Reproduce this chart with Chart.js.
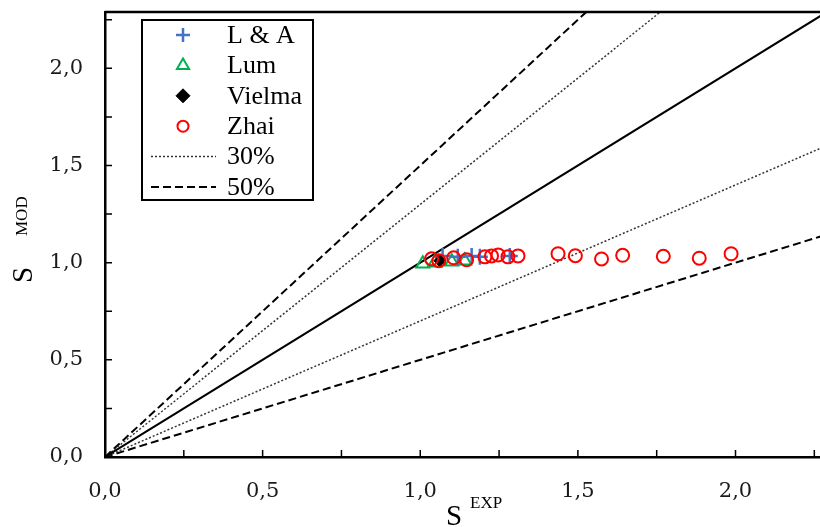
<!DOCTYPE html>
<html>
<head>
<meta charset="utf-8">
<script src="https://cdn.jsdelivr.net/npm/chart.js@4"></script>
<style>
  html, body { margin: 0; padding: 0; background: #fff; }
  #wrap { width: 820px; height: 527px; position: relative; }
</style>
</head>
<body>
<div id="wrap"><canvas id="chart" width="820" height="527"></canvas></div>
<script>
// ---------- Data ----------
const LA_X = [1.071, 1.119, 1.163, 1.189, 1.284];
const LA_Y = [1.035, 1.03, 1.035, 1.03, 1.035];

const LUM_X = [1.008, 1.046, 1.100, 1.141];
const LUM_Y = [0.995, 1.0, 1.005, 1.01];

const VIELMA_X = [1.062];
const VIELMA_Y = [1.01];

const ZHAI_X = [1.036, 1.059, 1.106, 1.147, 1.205, 1.226, 1.247, 1.278, 1.31, 1.437, 1.492, 1.575, 1.642, 1.771, 1.885, 1.986];
const ZHAI_Y = [1.02, 1.01, 1.025, 1.015, 1.03, 1.035, 1.04, 1.03, 1.035, 1.046, 1.036, 1.019, 1.038, 1.033, 1.023, 1.046];

// reference lines y = k * x
const REF_SLOPES = [1.0, 1.3, 0.7, 1.5, 0.5];
const REF_STYLE = ['solid', 'dotted', 'dotted', 'dashed', 'dashed'];

const X_TICKS = [0, 0.25, 0.5, 0.75, 1.0, 1.25, 1.5, 1.75, 2.0, 2.25];
const Y_TICKS = [0, 0.25, 0.5, 0.75, 1.0, 1.25, 1.5, 1.75, 2.0, 2.25];
const X_MAX = 2.268;
const Y_MAX = 2.29;

const LEGEND_LABELS = ['L & A', 'Lum', 'Vielma', 'Zhai', '30%', '50%'];

// ---------- helpers ----------
const pts = (xs, ys) => xs.map((x, i) => ({ x, y: ys[i] }));
const fmt = v => v.toFixed(1).replace('.', ',');
const isMajor = v => Math.abs(v * 2 - Math.round(v * 2)) < 1e-6;

const LINE_DASH = { solid: [], dotted: [2, 2], dashed: [8, 4] };
const LINE_COLOR = { solid: '#000', dotted: '#333', dashed: '#000' };
const LINE_WIDTH = { solid: 2, dotted: 1.5, dashed: 2 };

const pointSets = [
    { label: 'Zhai', data: pts(ZHAI_X, ZHAI_Y), pointStyle: 'circle', pointRadius: 6.5, borderColor: '#ff0000', backgroundColor: 'rgba(0,0,0,0)', pointBorderWidth: 2 },
    { label: 'Vielma', data: pts(VIELMA_X, VIELMA_Y), pointStyle: 'rectRot', pointRadius: 6, borderColor: '#000', backgroundColor: '#000', pointBorderWidth: 1 },
    { label: 'L & A', data: pts(LA_X, LA_Y), pointStyle: 'cross', pointRadius: 8, borderColor: '#4472c4', backgroundColor: '#4472c4', pointBorderWidth: 2.5 },
    { label: 'Lum', data: pts(LUM_X, LUM_Y), pointStyle: 'triangle', pointRadius: 7.5, borderColor: '#00b050', backgroundColor: 'rgba(0,0,0,0)', pointBorderWidth: 2 }
].map(d => ({ ...d, showLine: false, pointHoverRadius: d.pointRadius }));

const lineSets = REF_SLOPES.map((k, i) => {
    const st = REF_STYLE[i];
    return {
        label: 'ref' + k,
        data: [{ x: 0, y: 0 }, { x: X_MAX * 1.1, y: k * X_MAX * 1.1 }],
        showLine: true,
        pointRadius: 0,
        borderColor: LINE_COLOR[st],
        borderWidth: LINE_WIDTH[st],
        borderDash: LINE_DASH[st],
        fill: false
    };
});

// ---------- decorations: inward ticks, frame, titles, legend ----------
const decor = {
    id: 'decor',
    afterDraw(chart) {
        const ctx = chart.ctx;
        const a = chart.chartArea;
        const xs = chart.scales.x, ys = chart.scales.y;
        ctx.save();
        ctx.strokeStyle = '#000';
        ctx.lineWidth = 2.5;
        ctx.beginPath();
        ctx.moveTo(a.left, a.top); ctx.lineTo(a.right, a.top);
        ctx.stroke();

        // inward tick marks
        ctx.lineWidth = 1.5;
        ctx.beginPath();
        X_TICKS.forEach(v => {
            const px = xs.getPixelForValue(v);
            ctx.moveTo(px, a.bottom); ctx.lineTo(px, a.bottom - 7);
        });
        Y_TICKS.forEach(v => {
            const py = ys.getPixelForValue(v);
            ctx.moveTo(a.left, py); ctx.lineTo(a.left + 7, py);
        });
        ctx.stroke();

        // axis titles
        ctx.fillStyle = '#000';
        ctx.textBaseline = 'alphabetic';
        ctx.textAlign = 'left';
        ctx.font = '29px "Liberation Serif"';
        ctx.fillText('S', 446, 525);
        ctx.font = '17px "Liberation Serif"';
        ctx.fillText('EXP', 470, 508);

        ctx.save();
        ctx.translate(32, 283);
        ctx.rotate(-Math.PI / 2);
        ctx.font = '29px "Liberation Serif"';
        ctx.fillText('S', 0, 0);
        ctx.font = '17px "Liberation Serif"';
        ctx.fillText('MOD', 47, -5);
        ctx.restore();

        // legend box
        ctx.fillStyle = '#fff';
        ctx.fillRect(142, 20, 171, 180);
        ctx.strokeStyle = '#000';
        ctx.lineWidth = 2;
        ctx.strokeRect(142, 20, 171, 180);

        const rowY = i => 35 + i * 30.4;
        const mx = 183;
        const byLabel = {};
        pointSets.forEach(d => { byLabel[d.label] = d; });
        LEGEND_LABELS.forEach((lab, i) => {
            const y = rowY(i);
            const d = byLabel[lab];
            if (d) {
                ctx.save();
                ctx.strokeStyle = d.borderColor;
                ctx.fillStyle = d.backgroundColor;
                ctx.lineWidth = d.pointBorderWidth;
                Chart.helpers.drawPoint(ctx, { pointStyle: d.pointStyle, radius: d.pointStyle === 'circle' ? 5.5 : 7, rotation: 0, borderWidth: d.pointBorderWidth }, mx, y);
                ctx.restore();
            } else {
                const st = lab === '30%' ? 'dotted' : 'dashed';
                ctx.save();
                ctx.strokeStyle = LINE_COLOR[st];
                ctx.lineWidth = LINE_WIDTH[st];
                ctx.setLineDash(LINE_DASH[st]);
                ctx.beginPath();
                ctx.moveTo(151, y); ctx.lineTo(216, y);
                ctx.stroke();
                ctx.restore();
            }
            ctx.fillStyle = '#000';
            ctx.font = '26px "Liberation Serif"';
            ctx.textBaseline = 'middle';
            ctx.fillText(lab, 227, y + 1);
        });
        ctx.restore();
    }
};

const tickFont = { family: '"DejaVu Serif"', size: 21 };

new Chart(document.getElementById('chart').getContext('2d'), {
    type: 'scatter',
    data: { datasets: pointSets.concat(lineSets) },
    options: {
        responsive: false,
        animation: false,
        events: [],
        layout: { autoPadding: false, padding: { top: 12, right: 0, left: 0, bottom: 0 } },
        plugins: { legend: { display: false }, tooltip: { enabled: false } },
        scales: {
            x: {
                type: 'linear', min: 0, max: X_MAX,
                afterBuildTicks: s => { s.ticks = X_TICKS.map(v => ({ value: v })); },
                afterFit: s => { s.height = 70; s.paddingLeft = 0; s.paddingRight = 0; },
                ticks: { callback: v => isMajor(v) ? fmt(v) : '', font: tickFont, color: '#1a1a1a', padding: 22, maxRotation: 0, autoSkip: false },
                grid: { drawOnChartArea: false, drawTicks: false },
                border: { display: true, color: '#000', width: 2.5 }
            },
            y: {
                type: 'linear', min: 0, max: Y_MAX,
                afterBuildTicks: s => { s.ticks = Y_TICKS.map(v => ({ value: v })); },
                afterFit: s => { s.width = 105; s.paddingTop = 0; s.paddingBottom = 0; },
                ticks: { callback: v => isMajor(v) ? fmt(v) : '', font: tickFont, color: '#1a1a1a', padding: 22, autoSkip: false },
                grid: { drawOnChartArea: false, drawTicks: false },
                border: { display: true, color: '#000', width: 2.5 }
            }
        }
    },
    plugins: [decor]
});
</script>
</body>
</html>
